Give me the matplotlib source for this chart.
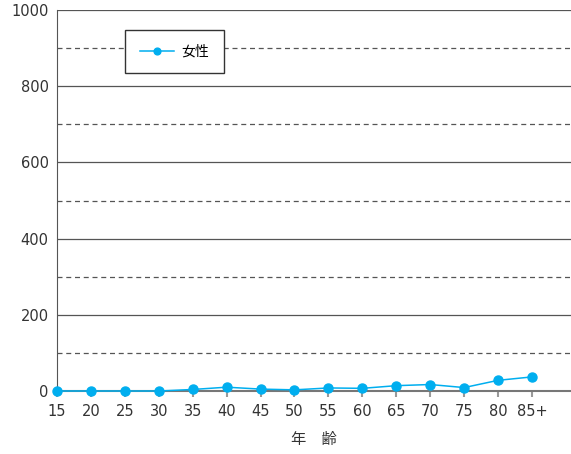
import matplotlib
matplotlib.use("Agg")
import matplotlib.pyplot as plt

plt.rcParams['font.family'] = ['DejaVu Sans', 'Noto Sans CJK JP']

ages = ["15", "20", "25", "30", "35", "40", "45", "50", "55", "60", "65", "70", "75", "80", "85+"]
female = [0, 0, 0, 0, 4, 10, 5, 3, 8, 7, 14, 17, 9, 28, 37]
series_label = "女性"
x_label = "年　齢"

fig = plt.figure(figsize=(5.71, 4.54), dpi=100)
ax = fig.add_axes([57/571, 63/454, 1 - 57/571, 381/454])

x = list(range(len(ages)))
ax.set_xlim(0, len(ages) - 1 + 1.15)
ax.set_ylim(0, 1000)

for y in range(100, 1001, 100):
    if y % 200 == 0:
        ax.axhline(y, color='#555555', lw=0.9, zorder=1)
    else:
        ax.axhline(y, color='#555555', lw=0.9, ls=(0, (4, 3)), zorder=1)

ax.plot(x, female, color='#00AEEF', lw=1.1, marker='o', ms=6.5, label=series_label, zorder=3, clip_on=False)

ax.set_yticks(range(0, 1001, 200))
ax.set_xticks(x)
ax.set_xticklabels(ages)
ax.tick_params(axis='y', length=0, labelsize=10.5, colors='#333333', pad=6)
ax.tick_params(axis='x', length=4, color='#999999', labelsize=10.5, labelcolor='#333333', pad=5, width=1.5)
for s in ['top', 'right']:
    ax.spines[s].set_visible(False)
ax.spines['left'].set_color('#555555')
ax.spines['bottom'].set_color('#777777')
ax.spines['bottom'].set_linewidth(1.5)
ax.set_xlabel(x_label, fontsize=11, color='#333333', labelpad=10)

leg = ax.legend(loc='upper left', fancybox=False, edgecolor='#333333', framealpha=1,
                fontsize=10, handlelength=2.5, handletextpad=0.5, borderpad=1.05,
                borderaxespad=0, markerscale=0.75)
leg.get_frame().set_linewidth(1.0)
leg.set_bbox_to_anchor(((125-57)/514, (391-30)/381), transform=ax.transAxes)

fig.savefig("out.png", dpi=100)
